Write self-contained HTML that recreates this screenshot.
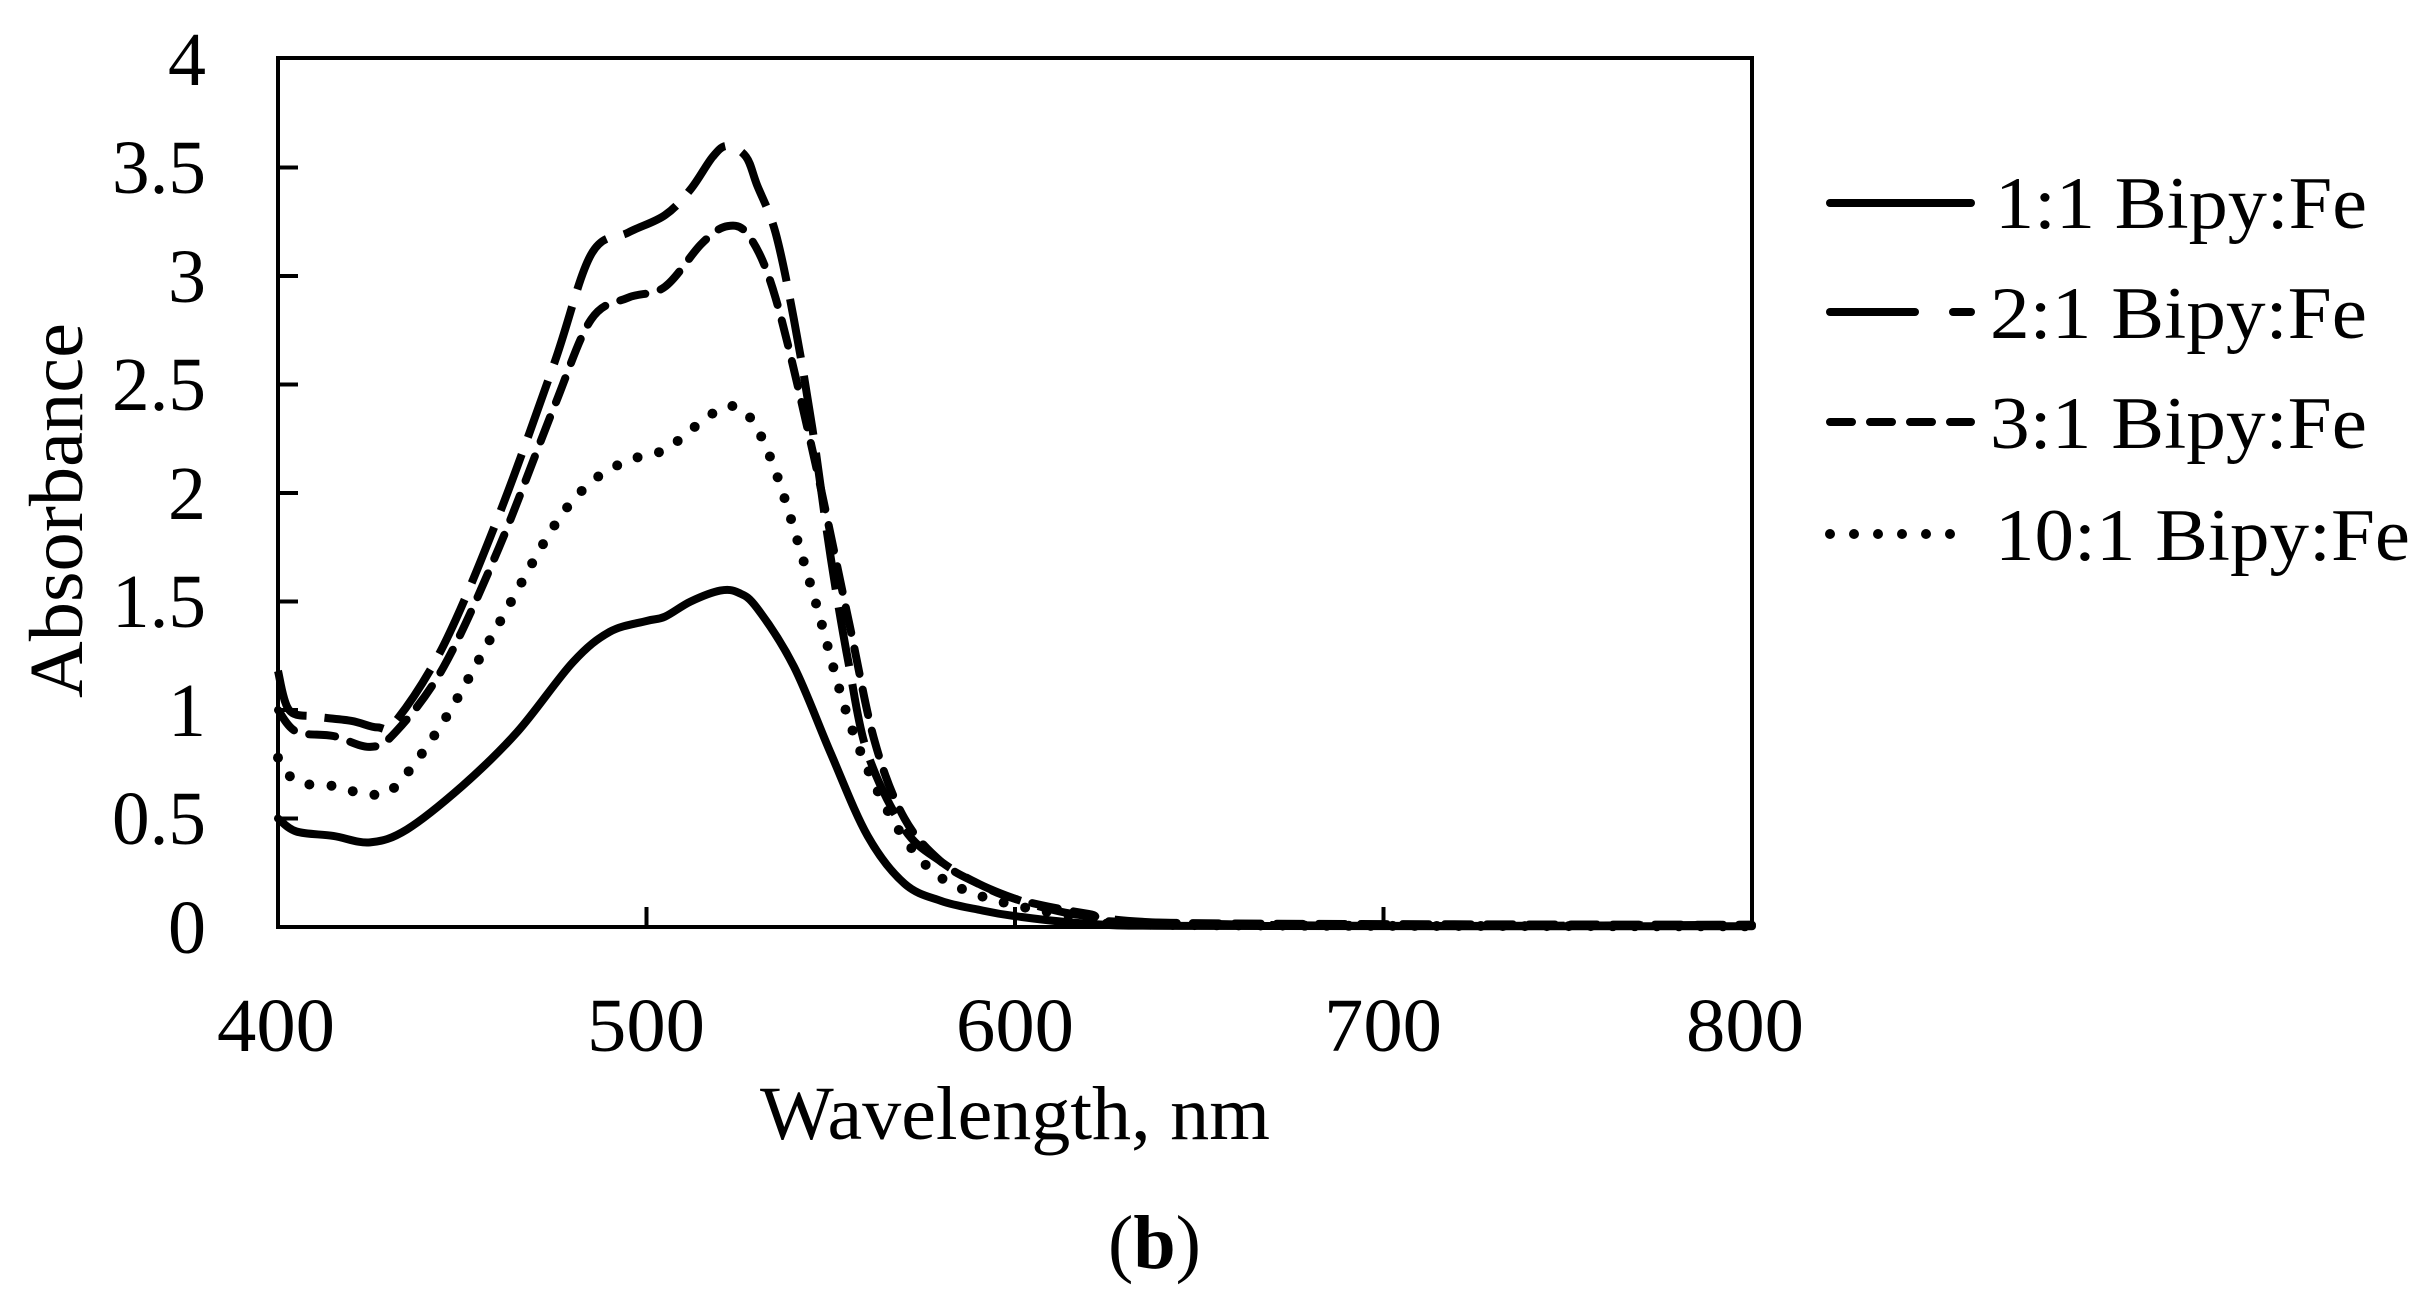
<!DOCTYPE html>
<html><head><meta charset="utf-8"><style>html,body{margin:0;padding:0;background:#fff;}svg{display:block;}text{font-family:"Liberation Serif","Times New Roman",Times,serif;}</style></head>
<body>
<svg id="s" width="2434" height="1289" viewBox="0 0 2434 1289" xmlns="http://www.w3.org/2000/svg" fill="#000">
<rect width="2434" height="1289" fill="#fff"/>
<g id="curves" fill="none" stroke="#000"></g>
<rect x="278" y="58" width="1474" height="869" fill="none" stroke="#000" stroke-width="4"/>
<g stroke="#000" stroke-width="4">
<line x1="278" y1="818.5" x2="298" y2="818.5"/><line x1="278" y1="710" x2="298" y2="710"/>
<line x1="278" y1="601.5" x2="298" y2="601.5"/><line x1="278" y1="493" x2="298" y2="493"/>
<line x1="278" y1="384.5" x2="298" y2="384.5"/><line x1="278" y1="276" x2="298" y2="276"/>
<line x1="278" y1="167.5" x2="298" y2="167.5"/>
<line x1="646.5" y1="927" x2="646.5" y2="907"/><line x1="1015" y1="927" x2="1015" y2="907"/><line x1="1383.5" y1="927" x2="1383.5" y2="907"/>
</g>
<g font-size="76" text-anchor="end">
<text x="206" y="953">0</text>
<text x="206" y="844" textLength="94" lengthAdjust="spacingAndGlyphs">0.5</text>
<text x="206" y="736">1</text>
<text x="206" y="627" textLength="94" lengthAdjust="spacingAndGlyphs">1.5</text>
<text x="206" y="519">2</text>
<text x="206" y="410" textLength="94" lengthAdjust="spacingAndGlyphs">2.5</text>
<text x="206" y="302">3</text>
<text x="206" y="193" textLength="94" lengthAdjust="spacingAndGlyphs">3.5</text>
<text x="206" y="85">4</text>
</g>
<g font-size="76" text-anchor="middle">
<text x="276" y="1051" textLength="118" lengthAdjust="spacingAndGlyphs">400</text>
<text x="646" y="1051" textLength="118" lengthAdjust="spacingAndGlyphs">500</text>
<text x="1015" y="1051" textLength="118" lengthAdjust="spacingAndGlyphs">600</text>
<text x="1383" y="1051" textLength="118" lengthAdjust="spacingAndGlyphs">700</text>
<text x="1745" y="1051" textLength="118" lengthAdjust="spacingAndGlyphs">800</text>
</g>
<text x="760" y="1139" font-size="76" textLength="510" lengthAdjust="spacingAndGlyphs">Wavelength, nm</text>
<text transform="translate(82,698) rotate(-90)" font-size="76" textLength="375" lengthAdjust="spacingAndGlyphs">Absorbance</text>
<text x="1108" y="1268" font-size="76">(<tspan font-weight="bold">b</tspan>)</text>
<g stroke="#000" stroke-width="8" stroke-linecap="round">
<line x1="1830" y1="203" x2="1971" y2="203"/>
<line x1="1830" y1="312" x2="1915" y2="312"/><line x1="1953" y1="312" x2="1971" y2="312"/>
<line x1="1830" y1="422" x2="1971" y2="422" stroke-dasharray="22 18"/>
<line x1="1830" y1="534" x2="1971" y2="534" stroke-dasharray="0 24" stroke-width="10"/>
</g>
<g font-size="74">
<text x="1995" y="228" textLength="372" lengthAdjust="spacingAndGlyphs">1:1 Bipy:Fe</text>
<text x="1990" y="338" textLength="377" lengthAdjust="spacingAndGlyphs">2:1 Bipy:Fe</text>
<text x="1990" y="448" textLength="377" lengthAdjust="spacingAndGlyphs">3:1 Bipy:Fe</text>
<text x="1995" y="560" textLength="415" lengthAdjust="spacingAndGlyphs">10:1 Bipy:Fe</text>
</g>
</svg>
<script>
var X=function(l){return 278+(l-400)*3.685;},Y=function(a){return 927-a*217;};
var S=[
[[[400,0.5],[405,0.44],[415,0.42],[425,0.39],[435,0.45],[450,0.65],[465,0.9],[480,1.22],[490,1.36],[500,1.41],[505,1.43],[512,1.5],[520,1.55],[525,1.54],[530,1.47],[540,1.2],[550,0.8],[560,0.42],[570,0.2],[580,0.12],[590,0.08],[600,0.05],[620,0.015],[650,0.005],[800,0.003]],"",8,"round"],
[[[400,1.18],[403,1.0],[410,0.97],[420,0.95],[427,0.92],[432,0.95],[445,1.3],[460,1.9],[475,2.6],[485,3.1],[495,3.2],[505,3.28],[512,3.4],[518,3.55],[522,3.6],[527,3.55],[530,3.42],[535,3.2],[540,2.8],[545,2.3],[550,1.7],[555,1.2],[560,0.8],[570,0.45],[580,0.3],[590,0.2],[600,0.13],[610,0.08],[620,0.05],[640,0.02],[700,0.005],[800,0.01]],"60 18",8,"butt"],
[[[400,1.0],[405,0.9],[415,0.88],[425,0.83],[432,0.9],[445,1.2],[460,1.75],[475,2.4],[485,2.8],[495,2.9],[505,2.95],[515,3.15],[522,3.23],[528,3.18],[535,2.9],[545,2.2],[555,1.4],[562,0.85],[570,0.5],[580,0.3],[590,0.2],[600,0.13],[620,0.06],[640,0.02],[800,0.01]],"26 16",8,"round"],
[[[400,0.78],[405,0.67],[415,0.65],[425,0.61],[432,0.65],[445,0.95],[460,1.4],[475,1.85],[485,2.05],[495,2.15],[505,2.2],[515,2.33],[522,2.4],[528,2.35],[535,2.1],[545,1.55],[555,0.95],[565,0.55],[575,0.3],[585,0.18],[600,0.1],[620,0.04],[640,0.01],[800,0.003]],"0 22",10,"round"]
];
var g=document.getElementById("curves"),ns="http://www.w3.org/2000/svg";
S.forEach(function(s){
var P=s[0].map(function(p){return [X(p[0]),Y(p[1])];});
var d="M"+P[0][0].toFixed(1)+","+P[0][1].toFixed(1);
for(var i=0;i<P.length-1;i++){var p0=P[i-1]||P[i],p1=P[i],p2=P[i+1],p3=P[i+2]||p2;
var c1=[p1[0]+(p2[0]-p0[0])/6,p1[1]+(p2[1]-p0[1])/6],c2=[p2[0]-(p3[0]-p1[0])/6,p2[1]-(p3[1]-p1[1])/6];
d+="C"+c1[0].toFixed(1)+","+c1[1].toFixed(1)+" "+c2[0].toFixed(1)+","+c2[1].toFixed(1)+" "+p2[0].toFixed(1)+","+p2[1].toFixed(1);}
var p=document.createElementNS(ns,"path");p.setAttribute("d",d);p.setAttribute("stroke-width",s[2]);p.setAttribute("stroke-linecap",s[3]);p.setAttribute("stroke-linejoin","round");if(s[1])p.setAttribute("stroke-dasharray",s[1]);g.appendChild(p);});
</script>
</body></html>
